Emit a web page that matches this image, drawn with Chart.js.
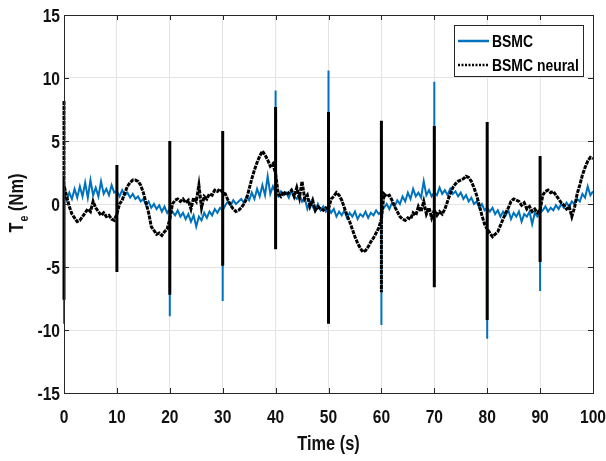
<!DOCTYPE html>
<html>
<head>
<meta charset="utf-8">
<script src="https://cdn.jsdelivr.net/npm/chart.js@4.4.0/dist/chart.umd.min.js"></script>
<style>
  html, body { margin: 0; padding: 0; background: #fff; }
  #wrap { width: 606px; height: 461px; }
</style>
</head>
<body>
<div id="wrap"><canvas id="chart" width="606" height="461"></canvas></div>
<script>
// sampling step of the value arrays (s)
const step = 0.5;
const xTicks = [0, 10, 20, 30, 40, 50, 60, 70, 80, 90, 100];
const yTicks = [-15, -10, -5, 0, 5, 10, 15];

// BSMC, t = 0 .. 100 every 0.5 s
const bsmc = [
  0.8, 0.3, 0.9, 0.4, 1.2, 0.5, 1.4, 0.6, 1.7, 0.5, 1.9, 0.7, 1.3, 0.6, 1.8, 0.8, 1.2, 0.7, 1.5, 0.9, 1.0,
  0.6, 1.1, 0.7, 0.9, 0.5, 0.8, 0.4, 0.6, 0.2, 0.4, -0.1, 0.2, -0.3, 0.0, -0.4, -0.1, -0.6, -0.2, -0.7, -0.4,
  -0.6, -0.9, -0.5, -1.0, -0.7, -1.2, -0.8, -1.4, -0.9, -1.8, -1.0, -1.3, -0.7, -1.1, -0.6, -0.9, -0.4, -0.7, -0.3, -0.5,
  -0.1, 0.2, -0.1, 0.3, 0.0, 0.2, 0.4, 0.1, 0.6, 0.3, 0.9, 0.4, 1.2, 0.6, 1.5, 0.7, 2.2, 0.8, 1.4, 0.9,
  0.6, 1.0, 0.7, 0.9, 0.5, 1.1, 0.6, 0.4, 0.8, 0.2, 0.5, -0.4, 0.2, -0.2, -0.6, 0.0, -0.5, -0.2, -0.6, -0.3,
  -0.7, -0.4, -1.0, -0.6, -0.9, -0.5, -1.1, -0.7, -1.0, -0.6, -1.2, -0.8, -1.0, -0.6, -1.1, -0.7, -0.9, -0.5, -0.8, -0.6,
  -0.3, 0.0, -0.4, 0.1, -0.2, 0.3, 0.0, 0.6, 0.2, 0.9, 0.4, 1.2, 0.6, 0.9, 0.5, 1.8, 0.7, 1.1, 0.6, 0.9,
  0.7, 1.3, 0.8, 1.1, 0.7, 1.2, 0.8, 1.0, 0.6, 0.9, 0.4, 0.7, 0.2, 0.5, 0.0, 0.2, -0.3, 0.0, -0.5, -0.3,
  -0.6, -0.3, -0.8, -0.5, -1.0, -0.6, -0.9, -0.5, -1.2, -0.7, -1.0, -0.6, -1.4, -0.8, -1.0, -0.6, -1.6, -0.7, -1.0, -0.7,
  -0.5, -0.2, -0.6, -0.3, -0.5, -0.1, -0.4, 0.0, -0.3, 0.1, -0.2, 0.2, 0.0, 0.4, 0.2, 0.8, 0.5, 1.4, 0.7, 1.0
];

// BSMC neural, t = 0 .. 100 every 0.5 s
const neural = [
  1.5, 0.6, -0.2, -0.8, -1.1, -1.4, -1.3, -1.0, -0.7, -0.4, -0.6, 0.2, -0.3, -0.6, -0.9, -0.7, -1.0, -0.9, -1.2, -1.3, -0.8,
  0.0, 0.3, 0.9, 1.4, 1.7, 1.9, 1.9, 1.8, 1.5, 0.9, 0.1, -0.7, -1.8, -2.1, -2.4, -2.3, -2.5, -2.2, -2.0, -1.2,
  0.0, 0.3, 0.4, 0.2, 0.4, 0.1, 0.3, -0.4, 0.5, 0.2, 1.5, -0.3, 0.6, 0.4, 0.8, 0.7, 1.1, 1.0, 1.2, 0.9,
  0.8, 0.3, -0.1, -0.4, -0.6, -0.5, -0.3, 0.0, 0.4, 1.2, 2.0, 2.7, 3.3, 3.8, 4.2, 3.9, 3.5, 3.0, 3.2, 2.4,
  0.8, 0.6, 1.0, 0.7, 0.9, 1.1, 0.6, 1.3, 0.5, 1.8, 0.4, 0.7, -0.2, 0.3, -0.5, -0.2, -0.4, -0.5, -0.3, -0.4,
  0.4, 0.6, 0.9, 0.7, 0.3, -0.3, -0.9, -1.4, -2.0, -2.6, -3.1, -3.5, -3.8, -3.7, -3.4, -3.0, -2.7, -2.3, -1.9, -1.2,
  0.8, 0.6, 0.7, 0.3, -0.2, -0.6, -1.0, -1.2, -1.3, -1.1, -1.2, -0.7, -0.9, -0.2, -0.6, 0.2, -0.8, -0.3, -1.1, -0.5,
  -0.9, -0.6, -0.8, -0.4, 0.2, 0.8, 1.3, 1.6, 1.8, 1.9, 2.0, 2.2, 2.1, 1.8, 1.3, 0.7, -0.1, -0.9, -1.6, -2.0,
  -2.3, -2.6, -2.4, -2.2, -1.7, -1.2, -0.7, -0.3, 0.2, 0.4, 0.3, 0.2, -0.1, 0.1, -0.4, -0.2, -0.6, -0.4, -0.7, -0.5,
  0.7, 1.0, 1.1, 0.9, 1.0, 0.7, 0.4, 0.1, -0.1, -0.4, -0.2, -1.0, -0.3, 0.8, 1.5, 2.3, 2.9, 3.4, 3.7, 3.6
];

// switching transients every 10 s
const spikeTimes = [0, 10, 20, 30, 40, 50, 60, 70, 80, 90];
const bsmcSpike = [-9.5, -4.0, -8.9, -7.7, 9.0, 10.6, -9.6, 9.7, -10.7, -6.9];
const neuralSpikeHi = [8.2, 3.1, 5.0, 5.8, 7.7, 7.3, 6.6, 6.2, 6.5, 3.8];
const neuralSpikeLo = [-7.6, -5.4, -7.2, -4.9, -3.6, -9.5, -7.0, -6.6, -9.2, -4.6];
// transients of the neural curve that look solid rather than dotted
const solidSpikes = [10, 20, 40, 50, 70, 90];

function buildSeries(vals, spikeVals) {
  const pts = [];
  vals.forEach((v, i) => {
    const t = i * step;
    pts.push({ x: t, y: v });
    const k = spikeTimes.indexOf(t);
    if (k >= 0) {
      spikeVals(k).forEach(y => pts.push({ x: t, y: y }));
      pts.push({ x: t, y: v });
    }
  });
  return pts;
}

const FONT = "'Liberation Sans', Arial, sans-serif";
const AXIS = '#262626';
const SQUEEZE = 0.82; // the original uses a narrow bold face

// text drawn narrower than the installed font
function narrowText(ctx, text, x, y, size, align) {
  ctx.save();
  ctx.font = 'bold ' + size + 'px ' + FONT;
  const w = ctx.measureText(text).width * SQUEEZE;
  let x0 = x;
  if (align === 'center') x0 = x - w / 2;
  if (align === 'right') x0 = x - w;
  ctx.translate(x0, y);
  ctx.scale(SQUEEZE, 1);
  ctx.textAlign = 'left';
  ctx.fillText(text, 0, 0);
  ctx.restore();
  return w;
}

// box, inner ticks, tick labels, titles and legend
const decorations = {
  id: 'decorations',
  afterDatasetsDraw(chart) {
    const { ctx, chartArea: a, scales } = chart;
    ctx.save();
    ctx.strokeStyle = AXIS;
    ctx.lineWidth = 1;
    ctx.beginPath();
    xTicks.forEach(v => {
      const px = Math.round(scales.x.getPixelForValue(v)) + 0.5;
      ctx.moveTo(px, a.bottom); ctx.lineTo(px, a.bottom - 5);
      ctx.moveTo(px, a.top); ctx.lineTo(px, a.top + 5);
    });
    yTicks.forEach(v => {
      const py = Math.round(scales.y.getPixelForValue(v)) + 0.5;
      ctx.moveTo(a.left, py); ctx.lineTo(a.left + 5, py);
      ctx.moveTo(a.right, py); ctx.lineTo(a.right - 5, py);
    });
    ctx.stroke();
    ctx.strokeRect(Math.round(a.left) + 0.5, Math.round(a.top) + 0.5,
                   Math.round(a.right - a.left), Math.round(a.bottom - a.top));

    // tick labels
    ctx.fillStyle = '#111';
    ctx.textBaseline = 'alphabetic';
    xTicks.forEach(v => {
      narrowText(ctx, String(v), scales.x.getPixelForValue(v), a.bottom + 30, 19, 'center');
    });
    yTicks.forEach(v => {
      narrowText(ctx, String(v), a.left - 4, scales.y.getPixelForValue(v) + 7, 19, 'right');
    });

    // x title
    narrowText(ctx, 'Time (s)', (a.left + a.right) / 2, 450, 20, 'center');

    // y title: T_e (Nm)
    ctx.save();
    ctx.translate(23, 203);
    ctx.rotate(-Math.PI / 2);
    ctx.font = 'bold 20px ' + FONT;
    const wT = ctx.measureText('T').width * SQUEEZE;
    const wRest = ctx.measureText(' (Nm)').width * SQUEEZE;
    ctx.font = 'bold 13px ' + FONT;
    const wE = ctx.measureText('e').width * SQUEEZE;
    const x0 = -(wT + wE + wRest + 1) / 2;
    narrowText(ctx, 'T', x0, 0, 20, 'left');
    narrowText(ctx, 'e', x0 + wT + 1, 5, 13, 'left');
    narrowText(ctx, ' (Nm)', x0 + wT + wE + 1, 0, 20, 'left');
    ctx.restore();

    // legend
    const lx = 454, ly = 25, lw = 129, lh = 51;
    ctx.fillStyle = '#fff';
    ctx.fillRect(lx, ly, lw, lh);
    ctx.strokeStyle = AXIS;
    ctx.lineWidth = 1;
    ctx.strokeRect(lx + 0.5, ly + 0.5, lw, lh);
    ctx.lineWidth = 2.5;
    ctx.strokeStyle = '#0072BD';
    ctx.beginPath(); ctx.moveTo(458, 41); ctx.lineTo(489, 41); ctx.stroke();
    ctx.strokeStyle = '#000';
    ctx.setLineDash([2, 1.5]);
    ctx.beginPath(); ctx.moveTo(458, 65); ctx.lineTo(489, 65); ctx.stroke();
    ctx.setLineDash([]);
    ctx.fillStyle = '#000';
    narrowText(ctx, 'BSMC', 492, 47, 17, 'left');
    narrowText(ctx, 'BSMC neural', 492, 71, 17, 'left');
    ctx.restore();
  }
};

new Chart(document.getElementById('chart'), {
  type: 'line',
  data: {
    datasets: [{
      label: 'BSMC',
      data: buildSeries(bsmc, k => [bsmcSpike[k]]),
      borderColor: '#0072BD',
      borderWidth: 2,
      clip: false,
      order: 1
    }, {
      label: 'BSMC neural',
      data: buildSeries(neural, k => [neuralSpikeHi[k], neuralSpikeLo[k]]),
      borderColor: '#000',
      borderWidth: 3,
      borderDash: [4, 1],
      clip: false,
      order: 0,
      segment: {
        borderDash: c => (c.p0.parsed.x === c.p1.parsed.x &&
                          solidSpikes.includes(c.p0.parsed.x)) ? [] : [4, 1]
      }
    }]
  },
  options: {
    responsive: false,
    animation: false,
    parsing: false,
    elements: { point: { radius: 0 }, line: { tension: 0 } },
    layout: { padding: { top: 15, right: 13, left: 0, bottom: 0 } },
    plugins: { legend: { display: false }, tooltip: { enabled: false } },
    scales: {
      x: {
        type: 'linear', min: 0, max: 100,
        afterBuildTicks: s => { s.ticks = xTicks.map(v => ({ value: v })); },
        afterFit: s => { s.height = 68; },
        grid: { color: '#e3e3e3', drawTicks: false },
        border: { display: false },
        ticks: { display: false }
      },
      y: {
        type: 'linear', min: -15, max: 15,
        afterBuildTicks: s => { s.ticks = yTicks.map(v => ({ value: v })); },
        afterFit: s => { s.width = 64; },
        grid: { color: '#e3e3e3', drawTicks: false },
        border: { display: false },
        ticks: { display: false }
      }
    }
  },
  plugins: [decorations]
});
</script>
</body>
</html>
